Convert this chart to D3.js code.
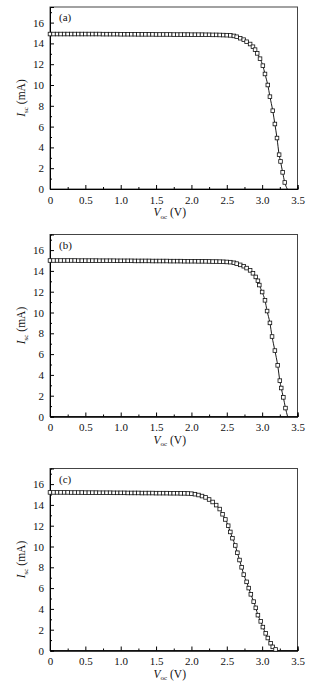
<!DOCTYPE html>
<html><head><meta charset="utf-8">
<script src="https://cdn.jsdelivr.net/npm/d3@7"></script>
<style>body{margin:0;background:#fff}svg{display:block}</style>
</head><body>
<script>
// ---- data ----
const panelLabels = ["(a)", "(b)", "(c)"];
const xTicks = [0, 0.5, 1.0, 1.5, 2.0, 2.5, 3.0, 3.5];
const xTickLabels = ["0", "0.5", "1.0", "1.5", "2.0", "2.5", "3.0", "3.5"];
const yTicks = [0, 2, 4, 6, 8, 10, 12, 14, 16];

// plateau voltages (0 .. 2.55 V, measured every 0.05 V)
const plateauV_a = [0,0.05,0.1,0.15,0.2,0.25,0.3,0.35,0.4,0.45,0.5,0.55,0.6,0.65,0.7,0.75,0.8,0.85,0.9,0.95,1.0,1.05,1.1,1.15,1.2,1.25,1.3,1.35,1.4,1.45,1.5,1.55,1.6,1.65,1.7,1.75,1.8,1.85,1.9,1.95,2.0,2.05,2.1,2.15,2.2,2.25,2.3,2.35,2.4,2.45,2.5,2.55];
const plateauI_a = [14.9,14.9,14.9,14.9,14.9,14.9,14.9,14.9,14.9,14.9,14.9,14.9,14.9,14.9,14.9,14.89,14.89,14.89,14.89,14.89,14.88,14.88,14.88,14.88,14.88,14.87,14.87,14.87,14.87,14.87,14.86,14.86,14.86,14.86,14.86,14.85,14.85,14.85,14.85,14.85,14.84,14.84,14.84,14.84,14.83,14.83,14.82,14.82,14.81,14.8,14.79,14.77];
const kneeV_a = [2.6,2.64,2.69,2.74,2.78,2.83,2.87,2.9,2.93,2.97,3.01,3.04,3.08,3.11,3.15,3.18,3.21,3.24,3.26,3.29,3.32];
const kneeI_a = [14.72,14.64,14.5,14.36,14.16,13.94,13.68,13.4,13.04,12.53,11.86,11.06,10.0,8.88,7.53,6.25,4.9,3.3,2.65,1.6,0.63];
const endV_a = 3.355;

const plateauI_b = [15.0,15.0,15.0,15.0,15.0,15.0,15.0,15.0,14.99,14.99,14.99,14.99,14.99,14.99,14.98,14.98,14.98,14.98,14.98,14.97,14.97,14.97,14.97,14.97,14.96,14.96,14.96,14.96,14.96,14.95,14.95,14.95,14.95,14.95,14.94,14.94,14.94,14.94,14.93,14.93,14.93,14.93,14.92,14.92,14.92,14.91,14.9,14.9,14.89,14.88,14.86,14.84];
const kneeV_b = [2.6,2.64,2.69,2.74,2.78,2.83,2.87,2.91,2.94,2.96,3.0,3.04,3.07,3.11,3.14,3.18,3.22,3.25,3.27,3.3,3.33];
const kneeI_b = [14.78,14.7,14.58,14.45,14.27,14.05,13.77,13.42,13.05,12.64,11.97,11.17,10.14,9.0,7.69,6.34,4.92,3.45,2.74,1.84,0.81];
const endV_b = 3.36;

const plateauV_c = [0,0.05,0.1,0.15,0.2,0.25,0.3,0.35,0.4,0.45,0.5,0.55,0.6,0.65,0.7,0.75,0.8,0.85,0.9,0.95,1.0,1.05,1.1,1.15,1.2,1.25,1.3,1.35,1.4,1.45,1.5,1.55,1.6,1.65,1.7,1.75,1.8,1.85,1.9,1.95];
const plateauI_c = [15.2,15.2,15.2,15.2,15.2,15.2,15.19,15.19,15.19,15.19,15.18,15.18,15.18,15.18,15.17,15.17,15.17,15.17,15.16,15.16,15.16,15.16,15.15,15.15,15.15,15.15,15.14,15.14,15.14,15.14,15.13,15.13,15.13,15.13,15.12,15.12,15.12,15.11,15.11,15.1];
const kneeV_c = [2.0,2.05,2.1,2.15,2.2,2.25,2.3,2.35,2.4,2.44,2.48,2.52,2.55,2.58,2.62,2.65,2.68,2.71,2.74,2.78,2.81,2.84,2.88,2.91,2.94,2.98,3.01,3.05,3.08,3.12,3.15,3.19];
const kneeI_c = [15.08,15.03,14.95,14.85,14.72,14.52,14.28,13.98,13.6,13.1,12.6,12.0,11.4,10.8,10.1,9.4,8.7,8.0,7.3,6.6,6.0,5.4,4.7,4.1,3.4,2.8,2.25,1.65,1.2,0.7,0.35,0.1];
const endV_c = 3.21;

const panels = [
  {label: panelLabels[0], V: plateauV_a.concat(kneeV_a), I: plateauI_a.concat(kneeI_a), end: endV_a, top: 7},
  {label: panelLabels[1], V: plateauV_a.concat(kneeV_b), I: plateauI_b.concat(kneeI_b), end: endV_b, top: 234.5},
  {label: panelLabels[2], V: plateauV_c.concat(kneeV_c), I: plateauI_c.concat(kneeI_c), end: endV_c, top: 468.5}
];

// ---- drawing ----
const W = 321, H = 689;
const svg = d3.select("body").append("svg").attr("width", W).attr("height", H);
const left = 50, right = 297.5, ph = 182;
const font = "'Liberation Serif','Times New Roman',serif";

const x = d3.scaleLinear().domain([0, 3.5]).range([left, right]);

panels.forEach(p => {
  const y = d3.scaleLinear().domain([0, 17.5]).range([p.top + ph, p.top]);
  const g = svg.append("g");

  // frame
  g.append("rect").attr("x", left).attr("y", p.top).attr("width", right - left).attr("height", ph)
    .attr("fill", "none").attr("stroke", "#444").attr("stroke-width", 1);

  // x axis (ticks inward)
  const xMinor = d3.range(0.25, 3.5, 0.5);
  const xa = g.append("g").attr("transform", `translate(0,${p.top + ph})`);
  xa.call(d3.axisBottom(x).tickValues(xTicks).tickSize(-4).tickPadding(7)
      .tickFormat((d, i) => xTickLabels[i]));
  xa.append("g").call(d3.axisBottom(x).tickValues(xMinor).tickSize(-2).tickFormat(""));
  xa.selectAll(".domain").attr("stroke", "#000");

  // y axis
  const ya = g.append("g").attr("transform", `translate(${left},0)`);
  ya.call(d3.axisLeft(y).tickValues(yTicks).tickSize(-4).tickPadding(6));
  ya.append("g").call(d3.axisLeft(y).tickValues(d3.range(1, 17.5, 2)).tickSize(-2).tickFormat(""));
  ya.selectAll(".domain").attr("stroke", "#000");

  g.selectAll(".tick text").attr("font-family", font).attr("font-size", 11).attr("fill", "#111");
  g.selectAll(".tick line").attr("stroke", "#000");

  // panel label
  g.append("text").attr("x", left + 9).attr("y", p.top + 14).attr("font-family", font)
    .attr("font-size", 11).attr("fill", "#111").text(p.label);

  // axis titles
  const xt = g.append("text").attr("x", (left + right) / 2 - 4).attr("y", p.top + ph + 27)
    .attr("text-anchor", "middle").attr("font-family", font).attr("font-size", 11.5).attr("fill", "#111");
  xt.append("tspan").attr("font-style", "italic").text("V");
  xt.append("tspan").attr("font-size", 7).attr("dy", 2.5).text("oc");
  xt.append("tspan").attr("dy", -2.5).text(" (V)");

  const yt = g.append("text").attr("transform", `translate(25,${p.top + ph / 2}) rotate(-90)`)
    .attr("text-anchor", "middle").attr("font-family", font).attr("font-size", 11.5).attr("fill", "#111");
  yt.append("tspan").attr("font-style", "italic").text("I");
  yt.append("tspan").attr("font-size", 7).attr("dy", 2.5).text("sc");
  yt.append("tspan").attr("dy", -2.5).text(" (mA)");

  // data
  const pts = p.V.map((v, i) => [v, p.I[i]]);
  const linePts = pts.concat([[p.end, 0]]);
  const clipId = "clip" + p.label.replace(/\W/g, "");
  svg.append("clipPath").attr("id", clipId).append("rect")
    .attr("x", left).attr("y", p.top).attr("width", right - left).attr("height", ph);
  const line = d3.line().x(d => x(d[0])).y(d => y(d[1])).curve(d3.curveMonotoneX);
  g.append("path").attr("d", line(linePts)).attr("fill", "none").attr("stroke", "#000")
    .attr("stroke-width", 0.9).attr("clip-path", `url(#${clipId})`);
  const s = 3.6;
  g.selectAll("rect.m").data(pts).join("rect").attr("class", "m")
    .attr("x", d => x(d[0]) - s / 2).attr("y", d => y(d[1]) - s / 2)
    .attr("width", s).attr("height", s)
    .attr("fill", "#fff").attr("stroke", "#111").attr("stroke-width", 0.8);
});
</script>
</body></html>
